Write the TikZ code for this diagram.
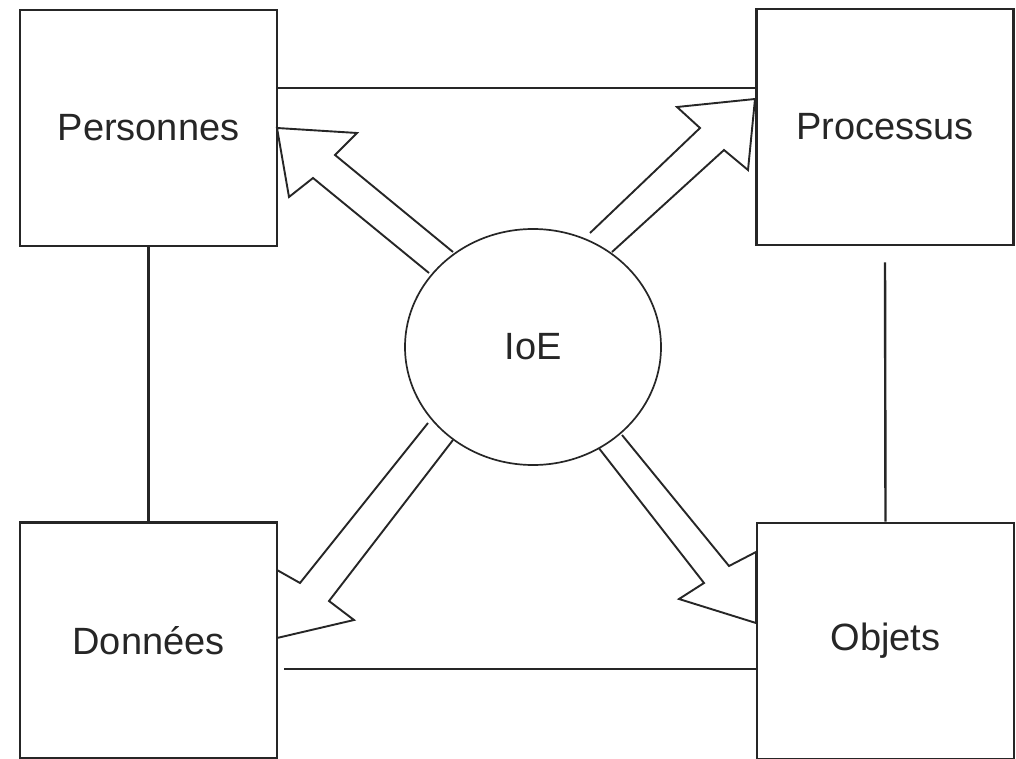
\documentclass[tikz,border=0pt]{standalone}
\usepackage{fontspec}
\setmainfont{Liberation Sans}
\usetikzlibrary{shapes.geometric,calc}
\definecolor{ink}{HTML}{262626}
\begin{document}
\begin{tikzpicture}[x=1pt,y=-1pt,
  box/.style={draw=ink,line width=2.6pt,minimum width=257pt,minimum height=236pt,inner sep=0pt,
              font=\fontsize{38}{44}\selectfont,text=ink},
  link/.style={draw=ink,line width=2.4pt},
  blockarrow/.style={draw=ink,fill=white,line width=1.9pt,line join=miter},
  hub/.style={ellipse,draw=ink,fill=white,line width=1.7pt,minimum width=256pt,minimum height=236pt,
              inner sep=0pt,font=\fontsize{38}{44}\selectfont,text=ink}]
\useasboundingbox (0,0) rectangle (1016,759);
\fill[white] (0,0) rectangle (1016,759);

% boxes
\node[box] (pers) at (148.5,128) {Personnes};
\node[box] (proc) at (885,127) {Processus};
\node[box] (don)  at (148.5,640.5) {Données};
\node[box] (obj)  at (885.5,641) {Objets};

% plain connectors
\draw[link] (pers.east |- 0,88) -- (proc.west |- 0,88);
\draw[link] ($(don.east |- 0,669)+(6,0)$) -- (obj.west |- 0,669);
\draw[link] (pers.south) -- (don.north);
\draw[link] ($(proc.south)+(0,16)$) -- (obj.north);

% hollow block arrows
\draw[blockarrow] (429,273) -- (313,178) -- (289,197) -- (277,128) -- (357,133) -- (335,155) -- (453,252);
\draw[blockarrow] (590,233) -- (700,128) -- (677,107) -- (755,99) -- (748,170) -- (724,150) -- (612,252);
\draw[blockarrow] (428,423) -- (300,583) -- (277,570) -- (277,638) -- (354,620) -- (329,601) -- (453,440);
\draw[blockarrow] (622,435) -- (729,566) -- (756,552) -- (756,623) -- (679,599) -- (704,583) -- (598,447);

% hub
\node[hub] (ioe) at (533,347) {IoE};
\end{tikzpicture}
\end{document}
